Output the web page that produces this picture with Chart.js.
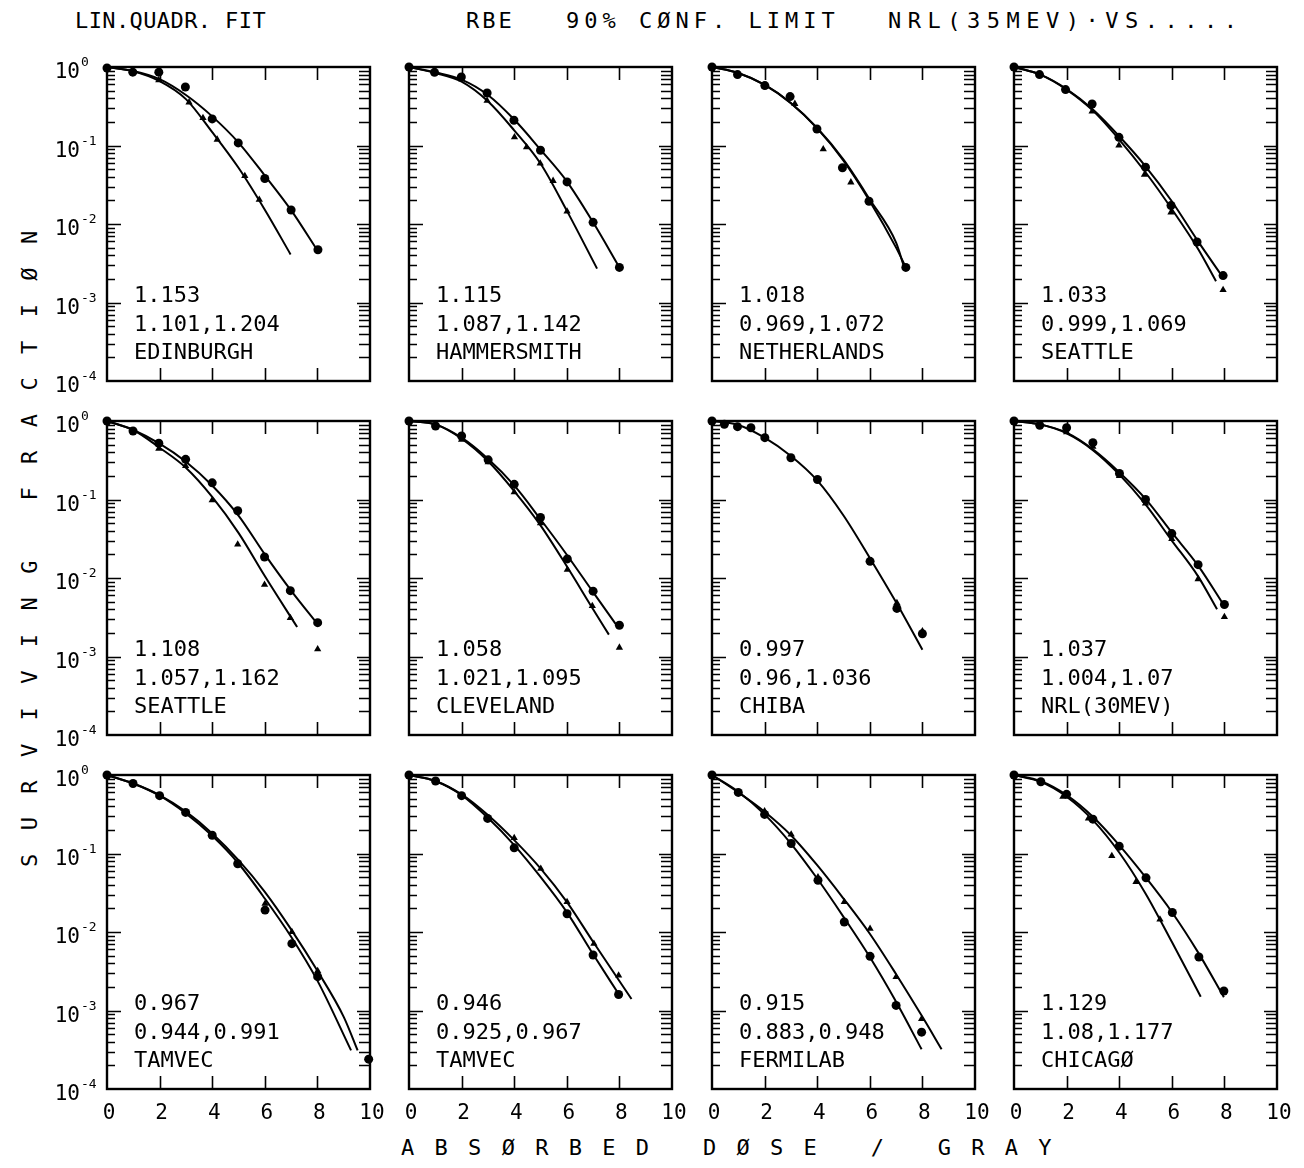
<!DOCTYPE html>
<html>
<head>
<meta charset="utf-8">
<script src="https://cdn.jsdelivr.net/npm/chart.js@4.4.0/dist/chart.umd.min.js"></script>
<style>
  body { margin: 0; background: #fff; width: 1304px; height: 1168px; position: relative; overflow: hidden;
         font-family: "DejaVu Sans Mono", monospace; color: #000; }
  canvas { position: absolute; }
  .txt { position: absolute; white-space: pre; font-size: 22px; line-height: 22px; }
  .note { position: absolute; white-space: pre; font-size: 22px; line-height: 28.5px; }
</style>
</head>
<body>
<script>
// Panel order: left to right, top to bottom
const PANEL_NAMES = ["EDINBURGH", "HAMMERSMITH", "NETHERLANDS", "SEATTLE",
                     "SEATTLE", "CLEVELAND", "CHIBA", "NRL(30MEV)",
                     "TAMVEC", "TAMVEC", "FERMILAB", "CHICAGØ"];
const RBE = ["1.153", "1.115", "1.018", "1.033", "1.108", "1.058",
             "0.997", "1.037", "0.967", "0.946", "0.915", "1.129"];
const CONF = ["1.101,1.204", "1.087,1.142", "0.969,1.072", "0.999,1.069",
              "1.057,1.162", "1.021,1.095", "0.96,1.036", "1.004,1.07",
              "0.944,0.991", "0.925,0.967", "0.883,0.948", "1.08,1.177"];

const X_TICKS = [0, 2, 4, 6, 8, 10];
const Y_DECADES = [0, -1, -2, -3, -4];

// fitted curves
const UPPER_DOSE = [
  [0,1,2,3,4,5,6,7,8], [0,1,2,3,4,5,6,7,8], [0,1,2,3,4,5,6,7,7.28], [0,1,2,3,4,5,6,7,7.94],
  [0,1,2,3,4,5,6,7,8], [0,1,2,3,4,5,6,7,7.97], [0,1,2,3,4,5,6,7,8], [0,1,2,3,4,5,6,7,8],
  [0,1,2,3,4,5,6,7,8,9,9.53], [0,1,2,3,4,5,6,7,8.46], [0,1,2,3,4,5,6,7,8,8.73], [0,1,2,3,4,5,6,7,7.98]
];
const UPPER_SF = [
  [1.0,0.89,0.70,0.44,0.235,0.109,0.0414,0.0150,0.0046],
  [1.0,0.855,0.69,0.44,0.214,0.0886,0.035,0.0105,0.0028],
  [1.0,0.84,0.596,0.348,0.167,0.066,0.0205,0.0058,0.003],
  [1.0,0.80,0.525,0.287,0.131,0.0544,0.0195,0.006,0.0021],
  [1.0,0.768,0.514,0.303,0.151,0.0624,0.02,0.0069,0.0026],
  [1.0,0.906,0.613,0.33,0.151,0.056,0.0198,0.0066,0.0023],
  [1.0,0.89,0.613,0.358,0.175,0.0625,0.018,0.0049,0.00122],
  [1.0,0.906,0.71,0.435,0.223,0.102,0.038,0.0144,0.0044],
  [1.0,0.78,0.555,0.341,0.18,0.0822,0.0325,0.0108,0.0032,0.00083,0.00031],
  [1.0,0.84,0.567,0.309,0.148,0.0646,0.0242,0.0075,0.0014],
  [1.0,0.60,0.34,0.171,0.071,0.0267,0.0095,0.0029,0.00083,0.00032],
  [1.0,0.84,0.555,0.294,0.128,0.05,0.018,0.0055,0.00148]
];
const LOWER_DOSE = [
  [0,1,2,3,4,5,6,6.98], [0,1,2,3,4,5,6,7.15], [0,1,2,3,4,5,6,7,7.37], [0,1,2,3,4,5,6,7,7.68],
  [0,1,2,3,4,5,6,7.23], [0,1,2,3,4,5,6,7,7.6], [], [0,1,2,3,4,5,6,7,7.72],
  [0,1,2,3,4,5,6,7,8,9.28], [0,1,2,3,4,5,6,7,8.01], [0,1,2,3,4,5,6,7,7.97], [0,1,2,3,4,5,6,7.1]
];
const LOWER_SF = [
  [1.0,0.88,0.66,0.39,0.148,0.052,0.0152,0.0041],
  [1.0,0.84,0.65,0.366,0.156,0.059,0.0148,0.0027],
  [1.0,0.84,0.59,0.345,0.165,0.064,0.0195,0.005,0.0028],
  [1.0,0.80,0.515,0.278,0.119,0.0456,0.0155,0.0048,0.00187],
  [1.0,0.768,0.457,0.254,0.108,0.0376,0.0106,0.00237],
  [1.0,0.906,0.595,0.309,0.128,0.0468,0.0141,0.004,0.0019],
  [],
  [1.0,0.906,0.696,0.426,0.209,0.0865,0.030,0.0105,0.004],
  [1.0,0.78,0.545,0.324,0.168,0.0746,0.0267,0.0087,0.0024,0.00031],
  [1.0,0.84,0.555,0.285,0.128,0.0503,0.0179,0.0052,0.00155],
  [1.0,0.613,0.315,0.134,0.048,0.0156,0.0048,0.00129,0.00032],
  [1.0,0.822,0.529,0.266,0.103,0.031,0.0075,0.0015]
];

// measured points
const CIRCLE_DOSE = [
  [0,0.98,1.97,2.98,4.0,4.99,6.0,7.0,8.02],
  [0,0.97,1.99,2.97,3.99,5.0,6.01,7.0,8.0],
  [0,0.97,2.01,2.97,3.99,4.96,5.97,7.37],
  [0,0.97,1.96,2.97,3.99,5.0,5.97,6.96,7.95],
  [0,0.99,1.97,2.99,4.0,4.97,5.99,6.97,8.01],
  [0,1.01,2.0,3.01,4.0,5.0,6.02,7.0,8.0],
  [0,0.47,0.97,1.48,2.01,3.0,4.01,6.01,7.03,8.0],
  [0,0.98,2.0,3.0,4.01,5.0,6.0,7.0,8.0],
  [0,0.99,2.0,2.99,4.0,4.97,6.01,7.03,8.01,9.95],
  [0,1.01,2.0,2.99,4.0,6.01,7.0,7.97],
  [0,1.0,2.0,3.01,4.03,5.03,6.01,7.0,7.97],
  [0,1.02,2.0,3.0,4.0,5.02,6.02,7.03,7.98]
];
const CIRCLE_SF = [
  [0.97,0.86,0.86,0.556,0.218,0.108,0.038,0.0151,0.0047],
  [1.0,0.855,0.746,0.467,0.21,0.087,0.0344,0.0105,0.0028],
  [1.0,0.80,0.58,0.42,0.162,0.052,0.0195,0.0028],
  [1.0,0.80,0.515,0.338,0.127,0.053,0.0172,0.0059,0.0022],
  [1.0,0.745,0.52,0.325,0.163,0.072,0.0185,0.0069,0.0027],
  [1.0,0.863,0.645,0.32,0.156,0.059,0.0175,0.0068,0.0025],
  [1.0,0.906,0.847,0.82,0.613,0.34,0.18,0.0163,0.0041,0.00195],
  [1.0,0.88,0.82,0.53,0.215,0.1,0.0368,0.0148,0.0046],
  [1.0,0.78,0.545,0.334,0.171,0.074,0.019,0.0071,0.0027,0.00024],
  [1.0,0.84,0.545,0.28,0.118,0.0171,0.0051,0.0016],
  [1.0,0.60,0.315,0.134,0.0457,0.0134,0.0049,0.00116,0.00053],
  [1.0,0.82,0.567,0.274,0.124,0.049,0.0177,0.0048,0.00177]
];
const TRIANGLE_DOSE = [
  [1.97,3.12,3.65,4.19,5.24,5.79],
  [2.0,2.97,4.01,4.47,4.99,5.48,6.01],
  [2.0,3.15,4.23,5.28],
  [2.97,3.99,4.96,5.97,7.95],
  [1.97,2.99,4.0,4.97,5.99,6.97,8.01],
  [2.0,3.01,4.0,5.0,6.02,6.97,8.0],
  [7.03,8.0],
  [2.0,3.0,4.01,5.0,6.0,7.0,8.0],
  [6.01,7.03,8.01],
  [4.0,5.01,6.01,7.03,7.97],
  [2.0,3.01,4.03,5.03,6.01,7.0,7.97],
  [1.86,2.83,3.72,4.64,5.55]
];
const TRIANGLE_SF = [
  [0.68,0.355,0.224,0.119,0.041,0.0204],
  [0.70,0.373,0.128,0.095,0.059,0.0355,0.0145],
  [0.57,0.34,0.09,0.034],
  [0.272,0.10,0.0426,0.0141,0.00145],
  [0.443,0.267,0.098,0.0268,0.0082,0.0031,0.00124],
  [0.58,0.30,0.124,0.05,0.0128,0.0044,0.0013],
  [0.0048,0.0021],
  [0.72,0.47,0.20,0.089,0.0315,0.0097,0.0032],
  [0.023,0.010,0.0032],
  [0.158,0.064,0.0241,0.0071,0.0028],
  [0.347,0.175,0.05,0.0241,0.011,0.00267,0.00078],
  [0.53,0.28,0.093,0.0436,0.0145]
];

// page layout
const PANEL_LEFT = [107, 409, 712, 1014];
const PANEL_TOP = [67, 421, 775];
const PANEL_W = 263, PANEL_H = 314;
const PAD = { left: 60, right: 25, top: 15, bottom: 45 };
const FONT = '"DejaVu Sans Mono", monospace';

function addText(cls, text, left, top, extra) {
  const d = document.createElement("div");
  d.className = cls;
  d.textContent = text;
  d.style.left = left + "px";
  d.style.top = top + "px";
  if (extra) Object.assign(d.style, extra);
  document.body.appendChild(d);
  return d;
}

function pts(xs, ys) {
  return xs.map((x, i) => ({ x: x, y: ys[i] }));
}

// frame, inward ticks and tick labels, placed with the chart's own scales
const framePlugin = {
  id: "frame",
  afterDatasetsDraw(chart, args, opts) {
    const ctx = chart.ctx, a = chart.chartArea;
    const xs = chart.scales.x, ys = chart.scales.y;
    ctx.save();
    ctx.strokeStyle = "#000";
    ctx.lineWidth = 2.4;
    ctx.strokeRect(a.left, a.top, a.right - a.left, a.bottom - a.top);
    ctx.lineWidth = 1.6;
    ctx.beginPath();
    for (let e = -4; e < 0; e++) {
      for (let m = 1; m <= 9; m++) {
        if (e === -4 && m === 1) continue;
        const y = Math.round(ys.getPixelForValue(m * Math.pow(10, e))) + 0.5;
        const lenL = m === 1 ? 14 : 8;
        const lenR = m === 1 ? 13 : 11;
        ctx.moveTo(a.left, y); ctx.lineTo(a.left + lenL, y);
        ctx.moveTo(a.right, y); ctx.lineTo(a.right - lenR, y);
      }
    }
    X_TICKS.forEach(v => {
      if (v === 0 || v === 10) return;
      const x = Math.round(xs.getPixelForValue(v)) + 0.5;
      ctx.moveTo(x, a.top); ctx.lineTo(x, a.top + 13);
      ctx.moveTo(x, a.bottom); ctx.lineTo(x, a.bottom - 13);
    });
    ctx.stroke();

    ctx.fillStyle = "#000";
    if (opts.yLabels) {
      Y_DECADES.forEach(e => {
        const y = ys.getPixelForValue(Math.pow(10, e));
        ctx.font = "21px " + FONT;
        ctx.textAlign = "right";
        ctx.textBaseline = "middle";
        ctx.fillText("10", a.left - 27, y + 6);
        ctx.font = "13px " + FONT;
        ctx.textAlign = "left";
        ctx.fillText(String(e), a.left - 26, y - 4);
      });
    }
    if (opts.xLabels) {
      ctx.font = "21px " + FONT;
      ctx.textAlign = "center";
      ctx.textBaseline = "middle";
      X_TICKS.forEach(v => {
        ctx.fillText(String(v), xs.getPixelForValue(v) + 2, a.bottom + 25);
      });
    }
    ctx.restore();
  }
};

for (let i = 0; i < 12; i++) {
  const r = Math.floor(i / 4), c = i % 4;
  const L = PANEL_LEFT[c], T = PANEL_TOP[r];
  const cv = document.createElement("canvas");
  cv.width = PANEL_W + PAD.left + PAD.right;
  cv.height = PANEL_H + PAD.top + PAD.bottom;
  cv.style.left = (L - PAD.left) + "px";
  cv.style.top = (T - PAD.top) + "px";
  document.body.appendChild(cv);

  const lineStyle = {
    type: "line", borderColor: "#000", borderWidth: 2, pointRadius: 0,
    fill: false, cubicInterpolationMode: "monotone", clip: false
  };
  new Chart(cv, {
    type: "scatter",
    data: {
      datasets: [
        Object.assign({ data: pts(UPPER_DOSE[i], UPPER_SF[i]) }, lineStyle),
        Object.assign({ data: pts(LOWER_DOSE[i], LOWER_SF[i]) }, lineStyle),
        { data: pts(CIRCLE_DOSE[i], CIRCLE_SF[i]), pointStyle: "circle", pointRadius: 4.5,
          backgroundColor: "#000", borderColor: "#000", borderWidth: 0, clip: false },
        { data: pts(TRIANGLE_DOSE[i], TRIANGLE_SF[i]), pointStyle: "triangle", pointRadius: 4.2,
          backgroundColor: "#000", borderColor: "#000", borderWidth: 0, clip: false }
      ]
    },
    options: {
      responsive: false,
      animation: false,
      events: [],
      layout: { padding: PAD },
      plugins: {
        legend: { display: false },
        tooltip: { enabled: false },
        frame: { yLabels: c === 0, xLabels: r === 2 }
      },
      scales: {
        x: { type: "linear", min: 0, max: 10, display: false },
        y: { type: "logarithmic", min: 0.0001, max: 1, display: false }
      }
    },
    plugins: [framePlugin]
  });

  addText("note", RBE[i] + "\n" + CONF[i] + "\n" + PANEL_NAMES[i], L + 27, T + 214);
}

// title and axis titles
addText("txt", "LIN.QUADR. FIT", 75, 10, { letterSpacing: "0.4px" });
addText("txt", "RBE", 466, 10, { letterSpacing: "3px" });
addText("txt", "90% CØNF. LIMIT", 566, 10, { letterSpacing: "5px" });
addText("txt", "NRL(35MEV)·VS.....", 888, 10, { letterSpacing: "6.5px" });
addText("txt", "ABSØRBED DØSE / GRAY", 401, 1137, { letterSpacing: "20.3px" });
addText("txt", "SURVIVING FRACTIØN", 19, 867,
        { letterSpacing: "23.4px", transformOrigin: "0 0", transform: "rotate(-90deg)" });
</script>
</body>
</html>
